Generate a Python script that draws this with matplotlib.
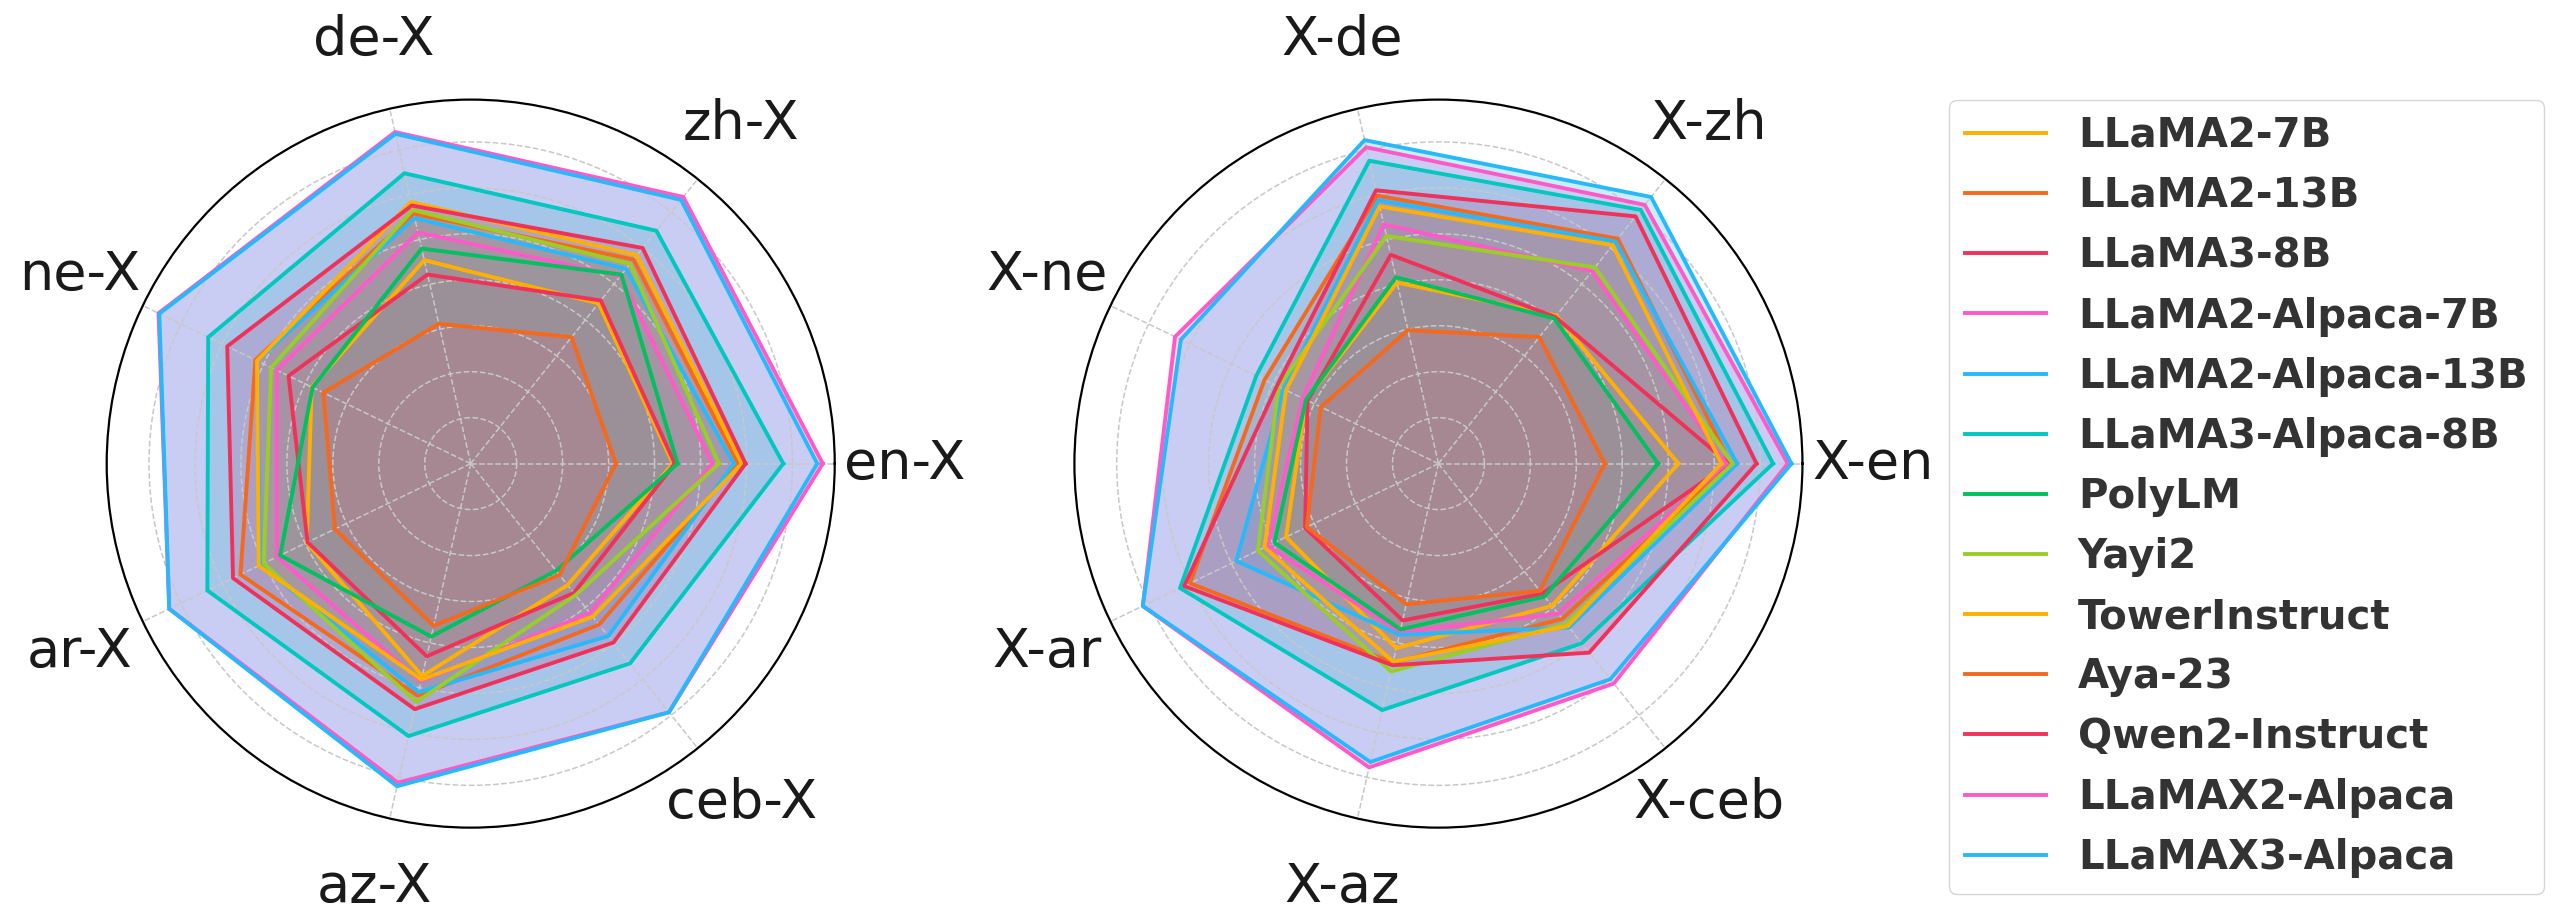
import numpy as np
import matplotlib.pyplot as plt

models = ['LLaMA2-7B', 'LLaMA2-13B', 'LLaMA3-8B', 'LLaMA2-Alpaca-7B',
          'LLaMA2-Alpaca-13B', 'LLaMA3-Alpaca-8B', 'PolyLM', 'Yayi2',
          'TowerInstruct', 'Aya-23', 'Qwen2-Instruct', 'LLaMAX2-Alpaca',
          'LLaMAX3-Alpaca']
colors = ['#FFB000', '#F5691E', '#F0325A', '#FF5AC8', '#28B9FA', '#00C8BE',
          '#00C060', '#9BCD28', '#FFB000', '#F5691E', '#F0325A', '#FF5AC8',
          '#28B9FA']

src_labels = ['en-X', 'zh-X', 'de-X', 'ne-X', 'ar-X', 'az-X', 'ceb-X']
tgt_labels = ['X-en', 'X-zh', 'X-de', 'X-ne', 'X-ar', 'X-az', 'X-ceb']

# scores, one row per model, columns follow the label order above
src_scores = [
    [22.0, 22.3, 22.7, 19.2, 19.8, 23.7, 16.9],
    [29.1, 28.4, 27.9, 26.0, 27.8, 25.9, 22.4],
    [22.2, 22.7, 21.1, 22.0, 19.7, 21.5, 18.0],
    [26.3, 26.1, 25.8, 23.4, 23.4, 24.3, 20.8],
    [28.6, 27.1, 27.4, 25.8, 25.4, 25.5, 24.0],
    [34.0, 32.4, 32.4, 31.7, 31.8, 30.4, 27.8],
    [22.5, 26.3, 24.0, 19.1, 23.0, 19.3, 14.9],
    [27.0, 27.8, 28.3, 24.1, 25.0, 26.6, 18.3],
    [29.5, 29.0, 29.2, 25.8, 25.6, 24.1, 21.3],
    [15.8, 17.6, 15.6, 17.8, 16.4, 18.1, 15.5],
    [29.9, 30.0, 28.8, 29.4, 28.7, 27.4, 24.9],
    [38.3, 37.1, 37.0, 37.7, 36.4, 35.6, 34.6],
    [37.7, 36.7, 36.8, 37.6, 36.4, 36.0, 34.6],
]
tgt_scores = [
    [26.1, 20.6, 20.2, 16.0, 18.4, 20.6, 19.8],
    [31.8, 31.3, 29.9, 21.0, 30.0, 22.2, 21.6],
    [31.6, 20.4, 23.3, 15.8, 16.1, 17.5, 18.1],
    [31.3, 26.8, 26.7, 16.4, 20.6, 18.8, 20.9],
    [32.5, 30.9, 29.4, 18.7, 24.4, 19.1, 22.8],
    [36.4, 35.3, 33.8, 22.0, 31.2, 27.5, 25.0],
    [23.9, 20.2, 20.8, 16.0, 19.8, 18.5, 18.5],
    [32.0, 27.3, 25.4, 19.3, 21.8, 23.2, 22.3],
    [30.8, 30.4, 28.7, 18.4, 21.0, 22.1, 22.6],
    [18.1, 17.6, 14.9, 14.2, 15.9, 15.7, 17.7],
    [34.6, 34.4, 30.5, 19.5, 30.7, 22.5, 26.3],
    [38.0, 36.0, 35.3, 31.8, 35.7, 33.9, 30.6],
    [38.4, 37.1, 36.1, 31.1, 35.7, 33.3, 30.0],
]


def radar(ax, scores, labels):
    angles = np.linspace(0, 2 * np.pi, len(labels), endpoint=False)
    closed = np.append(angles, angles[0])
    for name, vals, c in zip(models, scores, colors):
        v = np.append(vals, vals[0])
        ax.plot(closed, v, color=c, linewidth=2.8, label=name)
        ax.fill(closed, v, color=c, alpha=0.25, linewidth=0)
    ax.set_xticks(angles)
    ax.set_xticklabels(labels, fontsize=39, color='#1a1a1a')
    ax.tick_params(axis='x', pad=40)
    ax.set_ylim(0, 39.6)
    ax.set_yticks(range(5, 40, 5))
    ax.set_yticklabels([])
    ax.grid(color='#c8c8c8', linestyle='--', linewidth=1.1)
    ax.spines['polar'].set_linewidth(1.6)


fig = plt.figure(figsize=(25.52, 9.13), dpi=100)
ax1 = fig.add_axes([0.0418, 0.0935, 0.2853, 0.7974], projection='polar')
ax2 = fig.add_axes([0.4210, 0.0935, 0.2853, 0.7974], projection='polar')
radar(ax1, src_scores, src_labels)
radar(ax2, tgt_scores, tgt_labels)

handles, names = ax1.get_legend_handles_labels()
fig.legend(handles, names, loc='upper left', bbox_to_anchor=(0.7637, 0.8905),
           borderaxespad=0, prop={'weight': 'bold', 'size': 29},
           labelcolor='#333333')

fig.savefig('out.png', dpi=100)
